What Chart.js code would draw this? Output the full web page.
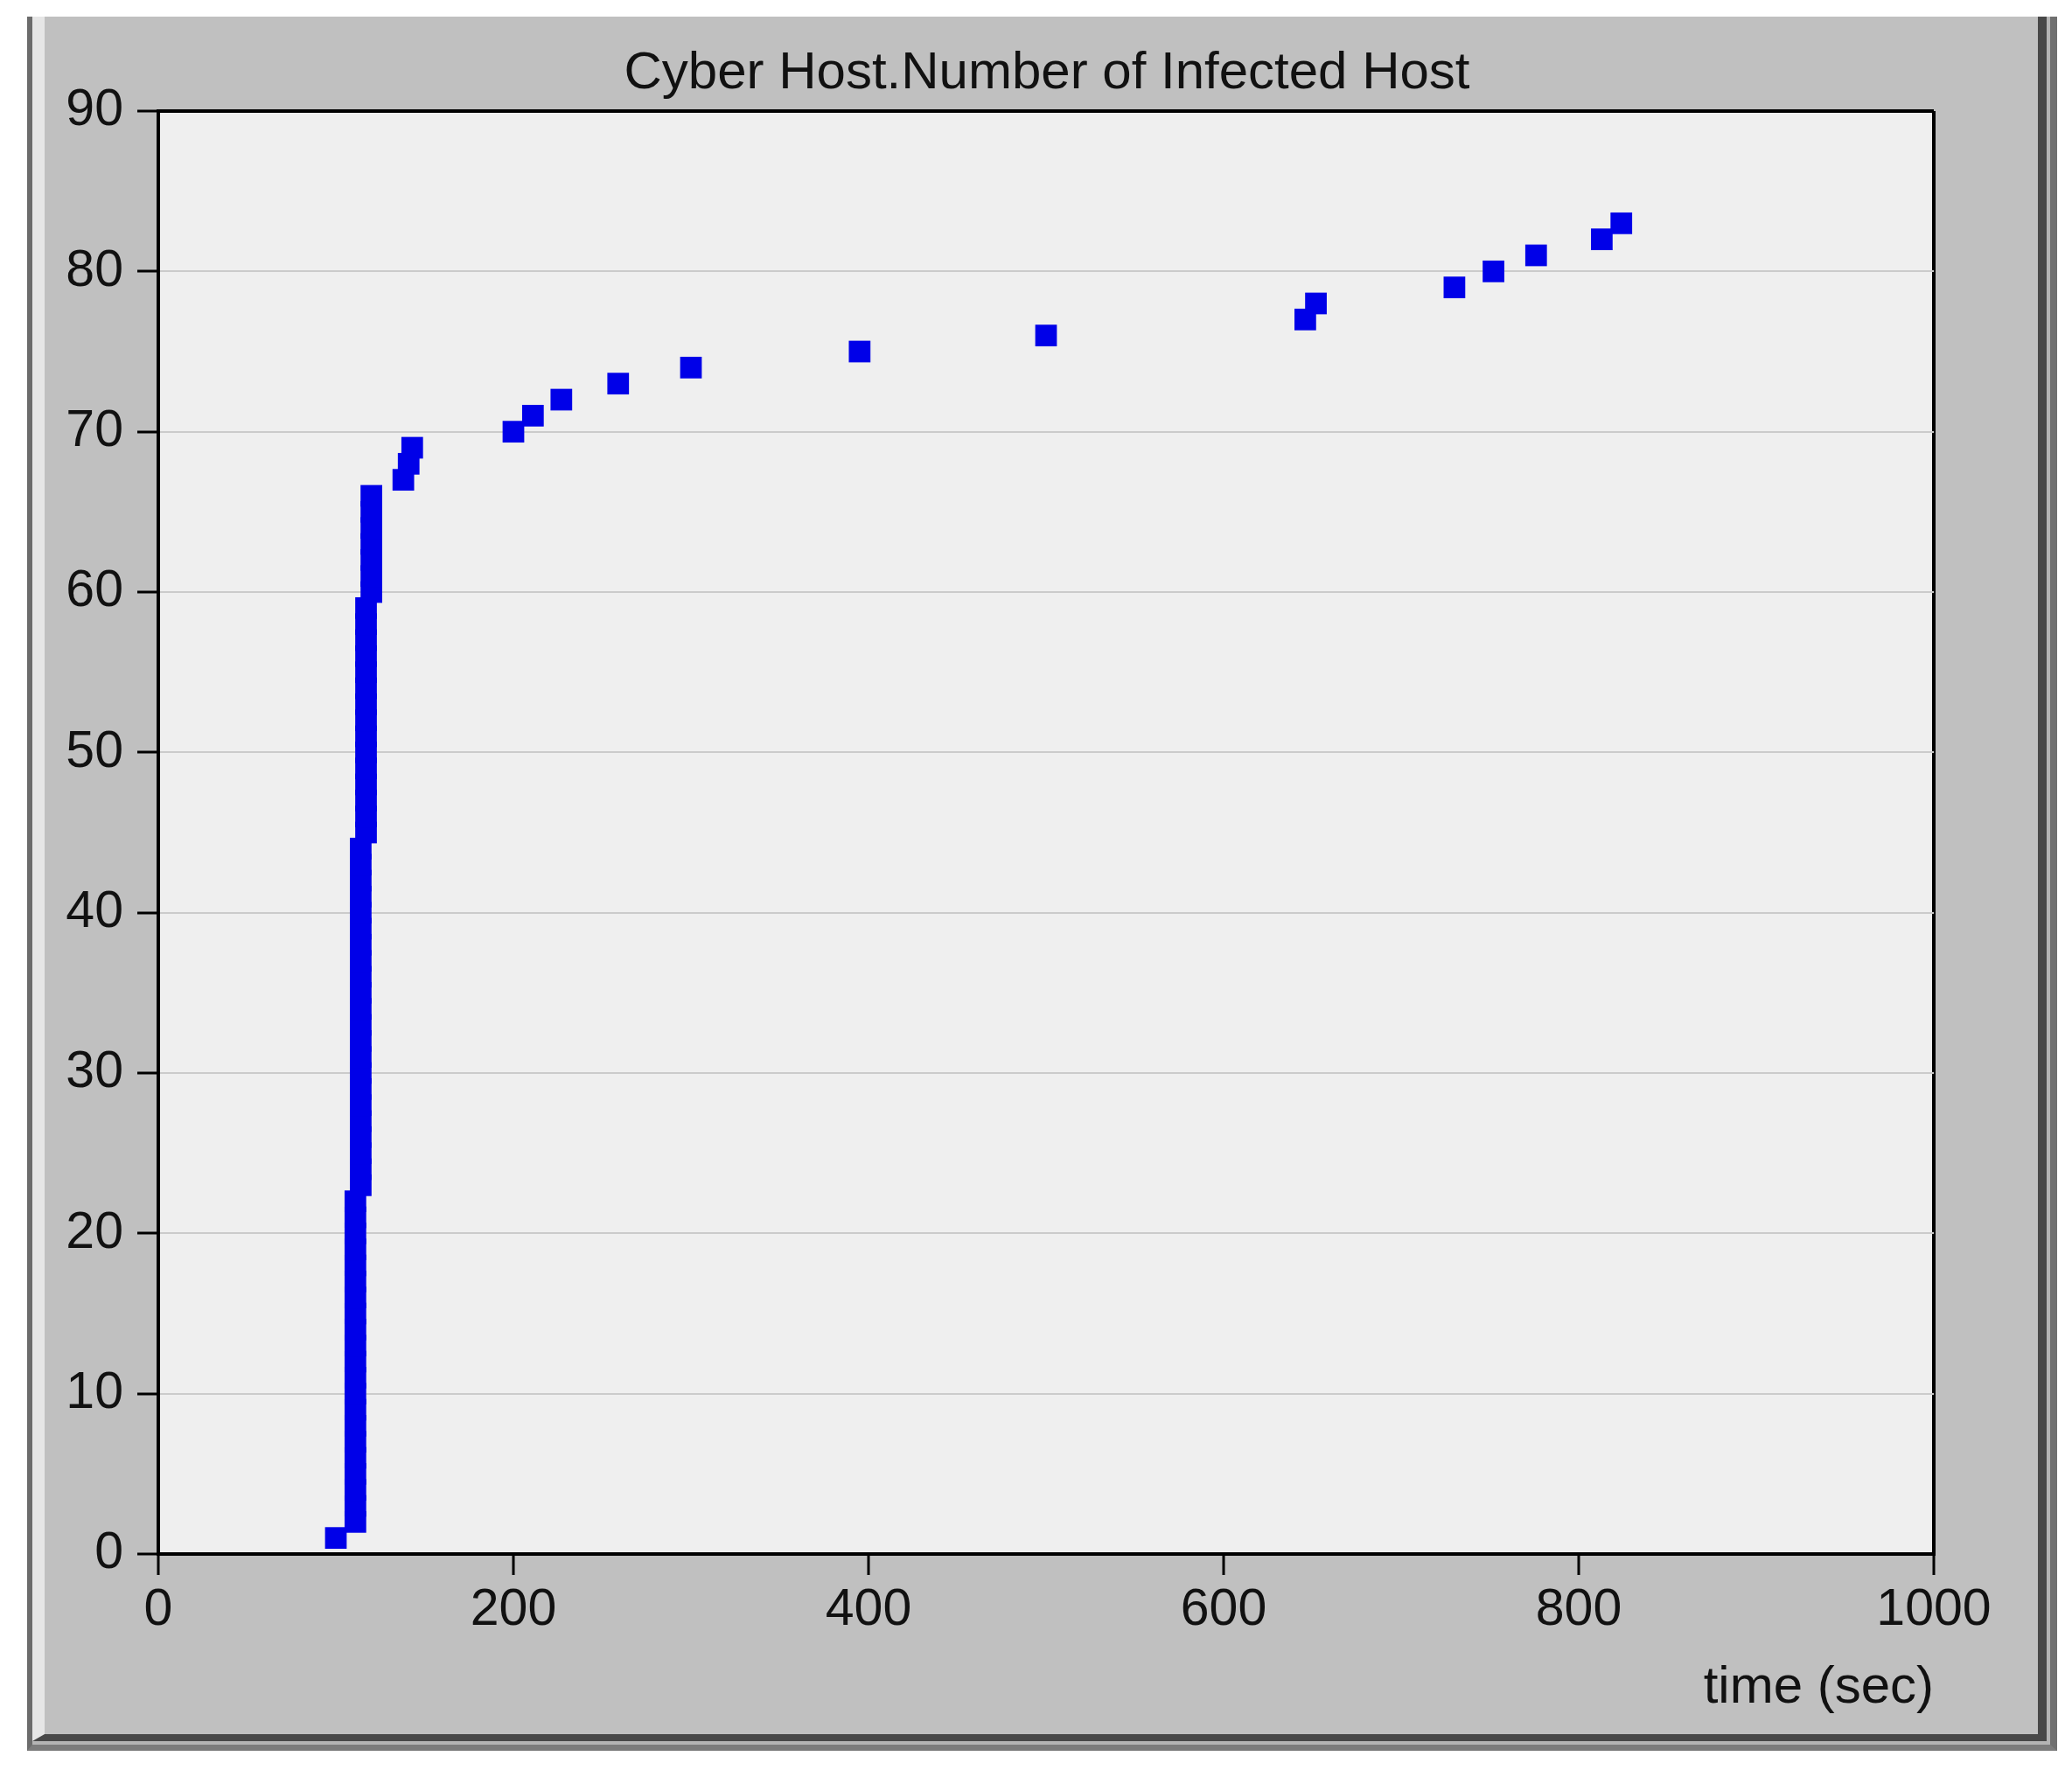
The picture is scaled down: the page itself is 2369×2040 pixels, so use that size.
<!DOCTYPE html>
<html>
<head>
<meta charset="utf-8">
<script src="https://cdn.jsdelivr.net/npm/chart.js@4.4.1/dist/chart.umd.min.js"></script>
<style>
  html, body { margin: 0; padding: 0; background: #ffffff; }
  body { width: 2369px; height: 2040px; position: relative; overflow: hidden; }
  #frameOuter {
    position: absolute; left: 31px; top: 19px; width: 2321px; height: 1983px;
    box-sizing: border-box; background: #c0c0c0;
    border-left: 6px solid #6c6c6c; border-right: 8px solid #707070; border-bottom: 7px solid #7c7c7c;
  }
  #frameMid {
    position: absolute; left: 0; top: 0; right: 0; bottom: 0; box-sizing: border-box;
    border-right: 4px solid #b4b4b4; border-bottom: 4px solid #b4b4b4;
  }
  #frameInner {
    position: absolute; left: 0; top: 0; right: 0; bottom: 0; box-sizing: border-box;
    border-left: 14px solid #e6e6e6; border-right: 10px solid #484848; border-bottom: 8px solid #484848;
    background: #c0c0c0;
  }
  #chart { position: absolute; left: 0; top: 0; }
  #title {
    position: absolute; left: 697px; width: 1000px; top: 51px;
    text-align: center; font-family: "Liberation Sans", Arial, sans-serif;
    font-size: 60px; line-height: 60px; color: #111111; white-space: nowrap;
  }
</style>
</head>
<body>
<div id="frameOuter"><div id="frameMid"><div id="frameInner"></div></div></div>
<canvas id="chart" width="2369" height="2040"></canvas>
<div id="title">Cyber Host.Number of Infected Host</div>
<script>
// ---- data ----
const chartTitle = "Cyber Host.Number of Infected Host";
const xAxisTitle = "time (sec)";
const xTicks = [0, 200, 400, 600, 800, 1000];
const yTicks = [0, 10, 20, 30, 40, 50, 60, 70, 80, 90];

// simulation time (sec) of each infection event
const timeSec = [
  100,
  111, 111, 111, 111, 111, 111, 111, 111, 111, 111, 111, 111, 111, 111, 111, 111, 111, 111, 111, 111, 111,
  114, 114, 114, 114, 114, 114, 114, 114, 114, 114, 114, 114, 114, 114, 114, 114, 114, 114, 114, 114, 114, 114,
  117, 117, 117, 117, 117, 117, 117, 117, 117, 117, 117, 117, 117, 117, 117,
  120, 120, 120, 120, 120, 120, 120,
  138, 141, 143,
  200, 211, 227, 259, 300, 395, 500, 646, 652, 730, 752, 776, 813, 824
];
// number of infected hosts at each event
const infectedHosts = [
  1,
  2, 3, 4, 5, 6, 7, 8, 9, 10, 11, 12, 13, 14, 15, 16, 17, 18, 19, 20, 21, 22,
  23, 24, 25, 26, 27, 28, 29, 30, 31, 32, 33, 34, 35, 36, 37, 38, 39, 40, 41, 42, 43, 44,
  45, 46, 47, 48, 49, 50, 51, 52, 53, 54, 55, 56, 57, 58, 59,
  60, 61, 62, 63, 64, 65, 66,
  67, 68, 69,
  70, 71, 72, 73, 74, 75, 76, 77, 78, 79, 80, 81, 82, 83
];

const points = timeSec.map((t, i) => ({ x: t, y: infectedHosts[i] }));

const FONT = '"Liberation Sans", Arial, sans-serif';

const plotBg = {
  id: 'plotBg',
  beforeDraw(chart) {
    const { ctx, chartArea: a } = chart;
    ctx.save();
    ctx.fillStyle = '#efefef';
    ctx.fillRect(a.left, a.top, a.right - a.left, a.bottom - a.top);
    ctx.restore();
  }
};

new Chart(document.getElementById('chart'), {
  type: 'scatter',
  data: {
    datasets: [{
      label: chartTitle,
      data: points,
      pointStyle: 'rect',
      pointRadius: 17.5,
      pointHoverRadius: 17.5,
      backgroundColor: '#0000e8',
      borderColor: '#0000e8',
      borderWidth: 0,
      showLine: false
    }]
  },
  options: {
    responsive: false,
    devicePixelRatio: 1,
    animation: false,
    events: [],
    layout: { padding: { left: 0, top: 127, right: 158, bottom: 74 } },
    plugins: {
      legend: { display: false },
      tooltip: { enabled: false },
      title: { display: false }
    },
    scales: {
      x: {
        type: 'linear',
        min: 0, max: 1000,
        afterBuildTicks(scale) { scale.ticks = xTicks.map(v => ({ value: v })); },
        afterFit(scale) { scale.height = 189; },
        border: { display: true, color: '#000000', width: 4 },
        grid: {
          drawOnChartArea: true,
          drawTicks: true,
          tickLength: 24,
          tickWidth: 3,
          tickColor: '#000000',
          color: (c) => (c.tick && c.tick.value === 1000) ? '#000000' : 'rgba(0,0,0,0)',
          lineWidth: 4
        },
        ticks: {
          padding: 5,
          color: '#111111',
          font: { family: FONT, size: 59 },
          maxRotation: 0,
          autoSkip: false,
          callback: (v) => String(v)
        },
        title: {
          display: true,
          text: xAxisTitle,
          align: 'end',
          color: '#111111',
          font: { family: FONT, size: 60 },
          padding: { top: 0, bottom: 0 }
        }
      },
      y: {
        type: 'linear',
        min: 0, max: 90,
        afterBuildTicks(scale) { scale.ticks = yTicks.map(v => ({ value: v })); },
        afterFit(scale) { scale.width = 181; },
        border: { display: true, color: '#000000', width: 4 },
        grid: {
          drawOnChartArea: true,
          drawTicks: true,
          tickLength: 24,
          tickWidth: 3,
          tickColor: '#000000',
          color: (c) => (c.tick && c.tick.value === 90) ? '#000000' : '#cbcbcb',
          lineWidth: (c) => (c.tick && c.tick.value === 90) ? 4 : 2
        },
        ticks: {
          padding: 16,
          color: '#111111',
          font: { family: FONT, size: 59 },
          autoSkip: false,
          callback: (v) => String(v)
        }
      }
    }
  },
  plugins: [plotBg]
});
</script>
</body>
</html>
